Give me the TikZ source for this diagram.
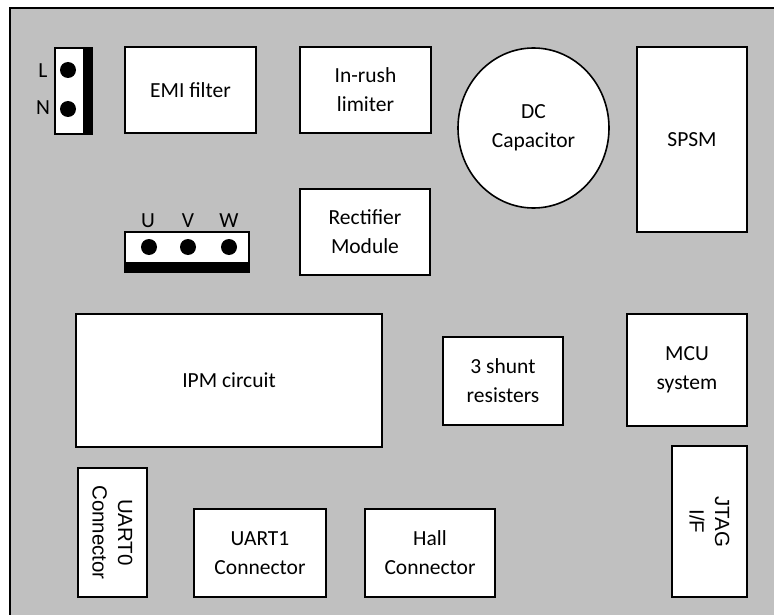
\documentclass[tikz,border=0pt]{standalone}
\usepackage{fontspec}
\setmainfont{Carlito}
\newfontfamily\arialfont{Liberation Sans}
\usetikzlibrary{positioning, shapes.geometric}

\definecolor{boardgray}{HTML}{C0C0C0}

\begin{document}
\begin{tikzpicture}[x=1pt, y=-1pt,
  block/.style={draw, fill=white, line width=1.6pt, align=center, inner sep=0pt, font=\fontsize{21.5}{29}\selectfont},
  sideblock/.style={block, rotate=-90, font=\arialfont\fontsize{20.5}{25.5}\selectfont},
  pin/.style={circle, fill=black, inner sep=0pt, minimum size=16pt},
  tag/.style={inner sep=0pt, font=\fontsize{21.5}{29}\selectfont}]
\useasboundingbox (0,0) rectangle (774,615);
\clip (0,0) rectangle (774,615);
% board
\draw[fill=boardgray, line width=1.6pt] (10,8) rectangle (800,640);
% mains terminal
\node[block, minimum width=37, minimum height=86] (lnterm) at (73.5,91) {};
\fill ([xshift=-10pt]lnterm.north east) rectangle (lnterm.south east);
\node[pin] (pinl) at (68,70) {};
\node[pin] (pinn) at (68,109) {};
\node[tag] (labl) at (43,71) {L};
\node[tag] (labn) at (43,108) {N};
% motor terminal
\node[block, minimum width=124, minimum height=40] (uvwterm) at (187,252) {};
\fill ([yshift=11pt]uvwterm.south west) rectangle (uvwterm.south east);
\node[pin] (pinu) at (149,247) {};
\node[pin] (pinv) at (188,247) {};
\node[pin] (pinw) at (229,247) {};
\node[tag] (labu) at (148,221) {U};
\node[tag] (labv) at (188,221) {V};
\node[tag] (labw) at (229,221) {W};
% blocks
\node[block, minimum width=131, minimum height=86] (emi) at (190.5,90) {EMI filter};
\node[block, minimum width=131, minimum height=86] (inrush) at (365.5,90) {In-rush\\limiter};
\node[block, ellipse, minimum width=151, minimum height=160] (dccap) at (533.5,128) {DC\\Capacitor};
\node[block, minimum width=110, minimum height=185] (spsm) at (692,139.5) {SPSM};
\node[block, minimum width=130, minimum height=86] (rect) at (365,232) {Rectifier\\Module};
\node[block, minimum width=306, minimum height=133] (ipm) at (229,380.5) {IPM circuit};
\node[block, minimum width=120, minimum height=88] (shunt) at (503,381) {3 shunt\\resisters};
\node[block, minimum width=120, minimum height=112] (mcu) at (687,370) {MCU\\system};
\node[sideblock, minimum width=129, minimum height=69] (uart0) at (112.5,532.5) {UART0\\Connector};
\node[sideblock, minimum width=151, minimum height=75] (jtag) at (709.5,521.5) {JTAG\\I/F};
\node[block, minimum width=132, minimum height=88] (uart1) at (260,553) {UART1\\Connector};
\node[block, minimum width=130, minimum height=88] (hall) at (430,553) {Hall\\Connector};
\end{tikzpicture}
\end{document}
